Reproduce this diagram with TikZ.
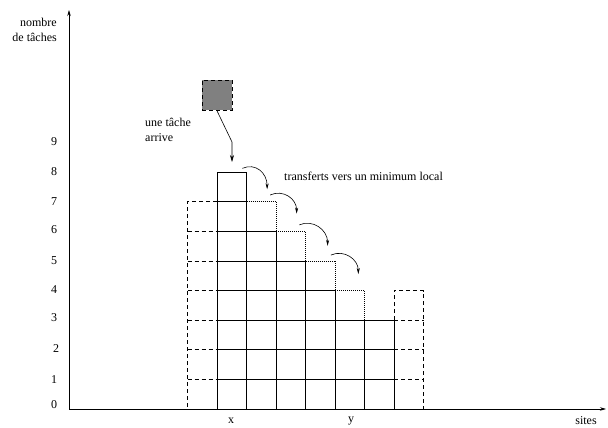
\documentclass[tikz,border=0pt]{standalone}
\usepackage{fontspec}
\setmainfont{Liberation Serif}
\usetikzlibrary{arrows.meta}
\begin{document}
\begin{tikzpicture}[x=1pt,y=1pt,
  lbl/.style={inner sep=0pt,font=\fontsize{12}{15}\selectfont},
  solidln/.style={line width=0.6pt},
  dashln/.style={line width=0.6pt,dash pattern=on 4pt off 3pt},
  dotln/.style={line width=0.6pt,dash pattern=on 0.8pt off 1.2pt},
  axis/.style={line width=0.7pt,-{Stealth[length=6pt,width=3.5pt]}},
  transfer/.style={line width=0.6pt,-{Stealth[length=6pt,width=3pt]}}]
\useasboundingbox (0,0) rectangle (608,428);
% axes
\coordinate (O) at (69,19);
\coordinate (ytip) at (69,418);
\coordinate (xtip) at (606,19);
\draw[axis] (O) -- (ytip);
\draw[axis] (O) -- (xtip);
% axis labels
\node[lbl,align=right,anchor=east] (ylab) at (57,398) {nombre\\de tâches};
\node[lbl] (sites) at (586,7) {sites};
\node[lbl] (lx) at (231,7) {x};
\node[lbl] (ly) at (351,7) {y};
\node[lbl] (n0) at (54,23) {0};
\node[lbl] (n1) at (54,48) {1};
\node[lbl] (n2) at (56,79) {2};
\node[lbl] (n3) at (54,110) {3};
\node[lbl] (n4) at (54,138) {4};
\node[lbl] (n5) at (54,167) {5};
\node[lbl] (n6) at (54,198) {6};
\node[lbl] (n7) at (54,226) {7};
\node[lbl] (n8) at (54,256) {8};
\node[lbl] (n9) at (54,286) {9};
% arriving task
\node[draw,dashln,fill=black!50,minimum size=30pt,inner sep=0pt] (sq) at (217,332.5) {};
\node[lbl,align=left,anchor=west] (arr) at (145,298) {une tâche\\arrive};
\coordinate (bend) at (232,286);
\coordinate (arrtip) at (232,266);
\draw[line width=0.6pt,-{Stealth[length=7pt,width=4pt]}] (sq.south) -- (bend) -- (arrtip);
\node[lbl,anchor=west] (trans) at (284,252) {transferts vers un minimum local};
% grid
\begin{scope}[shift={(187.5pt,19pt)},x=29.5pt,y=29.6pt]
  % solid
  \draw[solidln] (1,0) -- (1,8) -- (2,8) -- (2,0);
  \draw[solidln] (3,0) -- (3,6);
  \draw[solidln] (4,0) -- (4,5);
  \draw[solidln] (5,0) -- (5,4);
  \draw[solidln] (6,0) -- (6,3);
  \draw[solidln] (7,0) -- (7,3);
  \foreach \k in {1,2,3} \draw[solidln] (1,\k) -- (7,\k);
  \draw[solidln] (1,4) -- (5,4);
  \draw[solidln] (1,5) -- (4,5);
  \draw[solidln] (1,6) -- (3,6);
  \draw[solidln] (1,7) -- (2,7);
  % dotted
  \draw[dotln] (2,7) -- (3,7) -- (3,6);
  \draw[dotln] (3,6) -- (4,6) -- (4,5);
  \draw[dotln] (4,5) -- (5,5) -- (5,4);
  \draw[dotln] (5,4) -- (6,4) -- (6,3);
  % dashed
  \draw[dashln] (1,7) -- (0,7) -- (0,0);
  \foreach \k in {1,...,6} \draw[dashln] (0,\k) -- (1,\k);
  \draw[dashln] (7,3) -- (7,4) -- (8,4) -- (8,0);
  \foreach \k in {1,2,3} \draw[dashln] (7,\k) -- (8,\k);
  % transfer arcs
  \draw[transfer] (1.86,8.13) .. controls +(0.45,0.2) and +(0,0.55) .. (2.7,7.42);
  \draw[transfer] (2.8,7.23) .. controls +(0.45,0.2) and +(0,0.5) .. (3.7,6.6);
  \draw[transfer] (3.79,6.22) .. controls +(0.45,0.2) and +(0,0.55) .. (4.75,5.51);
  \draw[transfer] (4.86,5.2) .. controls +(0.45,0.2) and +(0,0.5) .. (5.79,4.56);
\end{scope}
\end{tikzpicture}
\end{document}
